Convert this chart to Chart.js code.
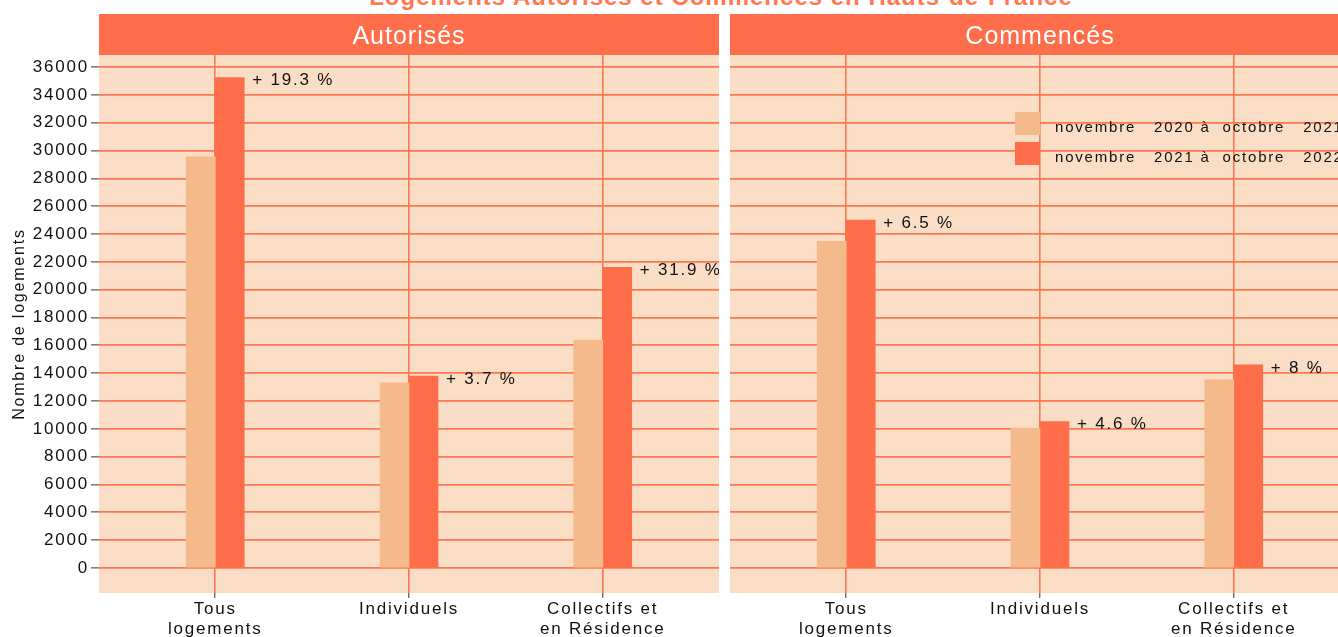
<!DOCTYPE html>
<html>
<head>
<meta charset="utf-8">
<script src="https://cdn.jsdelivr.net/npm/chart.js@4/dist/chart.umd.min.js"></script>
<style>
  html, body { margin: 0; padding: 0; background: #fff; overflow: hidden; }
  body { width: 1338px; height: 637px; position: relative; }
  #title {
    position: absolute; left: 0; width: 1442px; top: -17px; line-height: 24px; text-align: center;
    font: bold 24px "Liberation Sans", Arial, sans-serif; letter-spacing: 1px;
    color: rgb(255, 120, 82); white-space: nowrap;
  }
  #wrapLeft { position: absolute; left: 0; top: 0; width: 719px; height: 637px; }
  #wrapRight { position: absolute; left: 730px; top: 0; width: 620px; height: 637px; }
</style>
</head>
<body>
<div id="title">Logements Autorisés et Commencés en Hauts-de-France</div>
<div id="wrapLeft"><canvas id="chartLeft"></canvas></div>
<div id="wrapRight"><canvas id="chartRight"></canvas></div>
<script>
// categories and series
const categories = [['Tous', 'logements'], 'Individuels', ['Collectifs et', 'en Résidence']];
const periods = ['novembre   2020 à  octobre   2021', 'novembre   2021 à  octobre   2022'];

const autorises2021 = [29550, 13300, 16380];
const autorises2022 = [35250, 13790, 21610];
const autorisesPct = ['+ 19.3 %', '+ 3.7 %', '+ 31.9 %'];

const commences2021 = [23480, 10060, 13520];
const commences2022 = [25010, 10520, 14600];
const commencesPct = ['+ 6.5 %', '+ 4.6 %', '+ 8 %'];

const yTicks = [0, 2000, 4000, 6000, 8000, 10000, 12000, 14000, 16000, 18000,
  20000, 22000, 24000, 26000, 28000, 30000, 32000, 34000, 36000];

const BG = 'rgb(250, 221, 197)';
const LIGHT = 'rgb(245, 186, 140)';
const DARK = 'rgb(255, 110, 75)';
const GRID = 'rgb(255, 118, 82)';
const FONT = '"Liberation Sans", Arial, sans-serif';

// spacing of letters like the original (rendered wide)
const letterSpace = {
  id: 'letterSpace',
  beforeDraw(chart) { chart.ctx.letterSpacing = '1.8px'; }
};

// panel background + strip header
const panel = {
  id: 'panel',
  beforeDraw(chart, args, opts) {
    const {ctx, chartArea: a} = chart;
    ctx.save();
    ctx.fillStyle = BG;
    ctx.fillRect(a.left, a.top, a.right - a.left, a.bottom - a.top);
    ctx.fillStyle = DARK;
    ctx.fillRect(a.left, 14, a.right - a.left, 41);
    ctx.fillStyle = '#fff';
    ctx.font = '25px ' + FONT;
    ctx.letterSpacing = '1px';
    ctx.textAlign = 'center';
    ctx.textBaseline = 'middle';
    ctx.fillText(opts.text, (a.left + a.right) / 2, 37);
    ctx.restore();
  }
};

// percentage labels next to the second bar
const pctLabels = {
  id: 'pctLabels',
  afterDatasetsDraw(chart, args, opts) {
    const {ctx} = chart;
    const meta = chart.getDatasetMeta(1);
    ctx.save();
    ctx.letterSpacing = '1.8px';
    ctx.font = '17px ' + FONT;
    ctx.fillStyle = '#111';
    ctx.textAlign = 'left';
    ctx.textBaseline = 'middle';
    meta.data.forEach((bar, i) => {
      ctx.fillText(opts.labels[i], bar.x + bar.width / 2 + 8, bar.y + 3);
    });
    ctx.restore();
  }
};

// legend inside the right panel
const innerLegend = {
  id: 'innerLegend',
  afterDatasetsDraw(chart, args, opts) {
    if (!opts.show) return;
    const {ctx} = chart;
    ctx.save();
    ctx.letterSpacing = '1.8px';
    ctx.font = '15px ' + FONT;
    ctx.textBaseline = 'middle';
    ctx.textAlign = 'left';
    chart.data.datasets.forEach((ds, i) => {
      const y = 112 + i * 30;
      ctx.fillStyle = ds.backgroundColor;
      ctx.fillRect(285, y, 25, 23);
      ctx.fillStyle = '#111';
      ctx.fillText(ds.label, 325, y + 16);
    });
    ctx.restore();
  }
};

function makeChart(id, data1, data2, pct, stripText, withAxis) {
  return new Chart(document.getElementById(id), {
    type: 'bar',
    data: {
      datasets: [
        { label: periods[0], data: data1.map((v, i) => ({x: i + 1, y: v})), backgroundColor: LIGHT },
        { label: periods[1], data: data2.map((v, i) => ({x: i + 1, y: v})), backgroundColor: DARK }
      ]
    },
    options: {
      responsive: true,
      maintainAspectRatio: false,
      animation: false,
      barThickness: 29,
      layout: { padding: { top: 55, left: 0, right: 0, bottom: 0 } },
      plugins: {
        legend: { display: false },
        tooltip: { enabled: false },
        panel: { text: stripText },
        pctLabels: { labels: pct },
        innerLegend: { show: !withAxis }
      },
      scales: {
        x: {
          type: 'linear',
          min: 0.4,
          max: 3.6,
          offset: false,
          afterBuildTicks: s => { s.ticks = [1, 2, 3].map(v => ({value: v})); },
          afterFit: s => { s.height = 44; },
          border: { display: false },
          grid: { offset: false, color: GRID, lineWidth: 1.6, tickColor: '#333', tickLength: 5, tickWidth: 1 },
          ticks: {
            padding: 1,
            maxRotation: 0,
            autoSkip: false,
            color: '#111',
            font: { family: FONT, size: 17, lineHeight: 1.18 },
            callback: v => categories[v - 1]
          }
        },
        y: {
          min: -1800,
          max: 36870,
          afterBuildTicks: s => { s.ticks = yTicks.map(v => ({value: v})); },
          afterFit: s => { s.width = withAxis ? 99 : 0; },
          border: { display: false },
          grid: { color: GRID, lineWidth: 1.8, tickColor: '#333', tickLength: 8, tickWidth: 1, drawTicks: withAxis },
          ticks: {
            display: withAxis,
            padding: 2,
            color: '#111',
            font: { family: FONT, size: 17 },
            callback: v => String(v)
          },
          title: {
            display: withAxis,
            text: 'Nombre de logements',
            color: '#111',
            font: { family: FONT, size: 16 },
            padding: { top: 10, bottom: 0 }
          }
        }
      }
    },
    plugins: [letterSpace, panel, pctLabels, innerLegend]
  });
}

makeChart('chartLeft', autorises2021, autorises2022, autorisesPct, 'Autorisés', true);
makeChart('chartRight', commences2021, commences2022, commencesPct, 'Commencés', false);
</script>
</body>
</html>
